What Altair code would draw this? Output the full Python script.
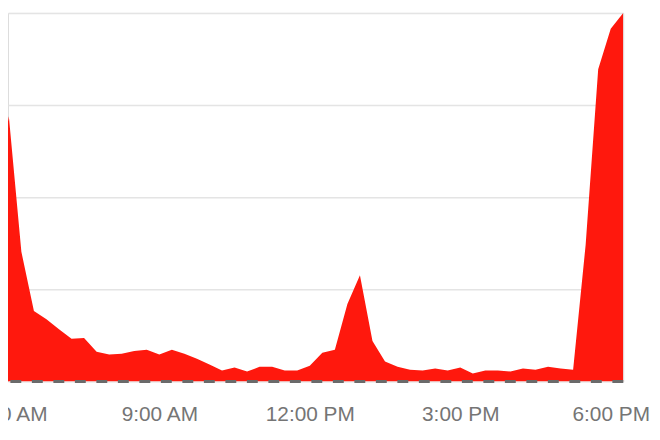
import altair as alt
import pandas as pd

# 15-minute samples (local clock time)
times = [
    "05:45", "06:00", "06:15", "06:30", "06:45", "07:00", "07:15", "07:30", "07:45",
    "08:00", "08:15", "08:30", "08:45", "09:00", "09:15", "09:30", "09:45",
    "10:00", "10:15", "10:30", "10:45", "11:00", "11:15", "11:30", "11:45",
    "12:00", "12:15", "12:30", "12:45", "13:00", "13:15", "13:30", "13:45",
    "14:00", "14:15", "14:30", "14:45", "15:00", "15:15", "15:30", "15:45",
    "16:00", "16:15", "16:30", "16:45", "17:00", "17:15", "17:30", "17:45",
    "18:00", "18:15",
]
values = [
    50.5, 72.0, 35.2, 19.1, 16.9, 14.2, 11.6, 11.8, 8.1,
    7.3, 7.5, 8.3, 8.6, 7.3, 8.6, 7.5, 6.2,
    4.6, 3.0, 3.8, 2.7, 4.0, 4.0, 3.0, 3.0,
    4.3, 7.8, 8.6, 21.0, 28.8, 11.0, 5.4, 4.0,
    3.2, 3.0, 3.5, 3.0, 3.8, 2.2, 3.0, 3.0,
    2.7, 3.5, 3.2, 4.0, 3.5, 3.2, 37.1, 84.7,
    95.7, 100.0,
]
tick_hours = [6, 9, 12, 15, 18]
grid_values = [25, 50, 75, 100]

day = "2024-01-01T"
df = pd.DataFrame({"time": [day + t + ":00" for t in times], "value": values})

tick_values = [alt.DateTime(year=2024, month=1, date=1, hours=h) for h in tick_hours]
x_domain = [
    alt.DateTime(year=2024, month=1, date=1, hours=5, minutes=59),
    alt.DateTime(year=2024, month=1, date=1, hours=18, minutes=15),
]

x_enc = alt.X(
    "time:T",
    scale=alt.Scale(domain=x_domain),
    axis=alt.Axis(
        values=tick_values,
        format="%-I:%M %p",
        title=None,
        grid=False,
        domain=False,
        ticks=False,
        labelFlush=False,
        labelOverlap=False,
        labelFont="Liberation Sans",
        labelFontSize=21,
        labelColor="#757575",
        labelPadding=22,
    ),
)
y_enc = alt.Y(
    "value:Q",
    scale=alt.Scale(domain=[0, 100], nice=False),
    axis=alt.Axis(
        values=grid_values,
        title=None,
        labels=False,
        ticks=False,
        domain=False,
        grid=True,
        gridColor="#e4e4e4",
        gridWidth=1.5,
    ),
)

area = alt.Chart(df).mark_area(color="#ff180d", clip=True, opacity=1).encode(x=x_enc, y=y_enc)

baseline = alt.Chart(pd.DataFrame({"v": [0]})).mark_rule(
    color="#6a6a6a", strokeWidth=3, strokeDash=[11, 10.7]
).encode(y=alt.Y("v:Q", scale=alt.Scale(domain=[0, 100], nice=False)))

chart = (
    alt.layer(area, baseline)
    .properties(
        width=621,
        height=372,
        autosize=alt.AutoSizeParams(type="none"),
        padding={"left": 0, "top": 3, "right": 29, "bottom": 49},
    )
    .configure_view(stroke=None)
    .configure(background="white")
)

chart.save("out.html", embed_options={"renderer": "svg", "actions": False})
